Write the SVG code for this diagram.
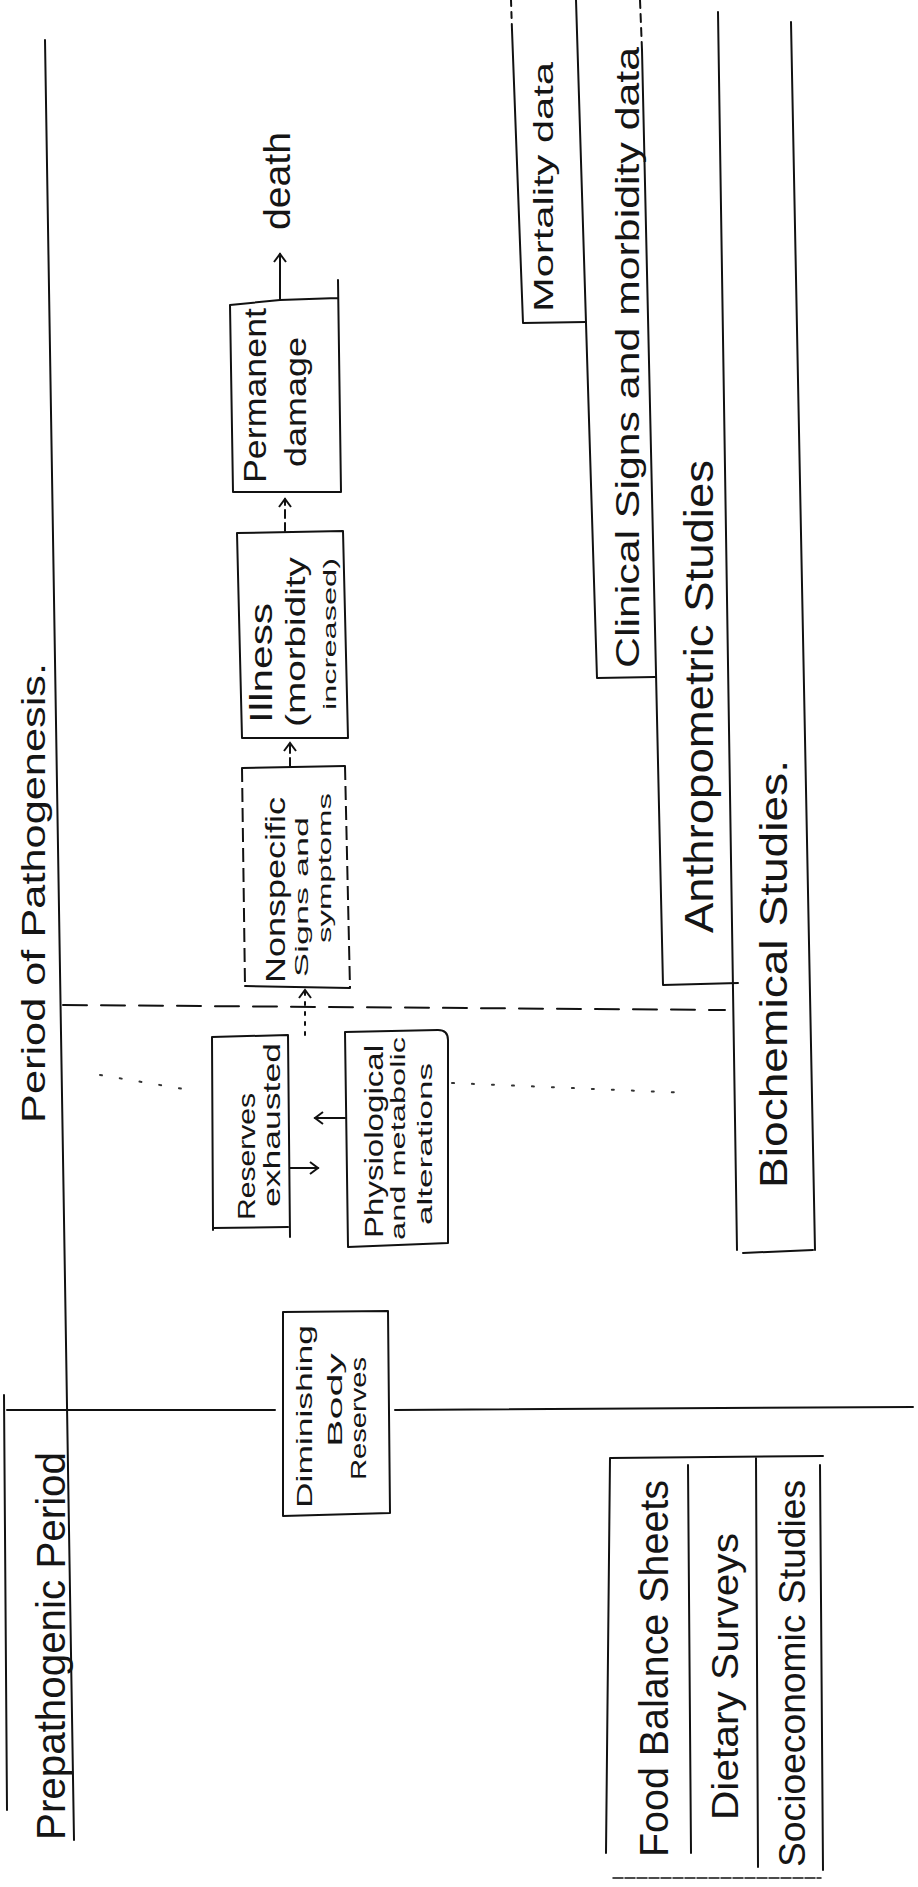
<svg xmlns="http://www.w3.org/2000/svg" width="918" height="1887" viewBox="0 0 918 1887">
<style>
  .ln{fill:none;stroke:#111;stroke-width:2;stroke-linecap:round;stroke-linejoin:round}
  .dsh{fill:none;stroke:#111;stroke-width:2;stroke-dasharray:14 6}
  .dot{fill:none;stroke:#333;stroke-width:2;stroke-dasharray:2 18;stroke-linecap:round}
  .t{font-family:"Liberation Sans","DejaVu Sans",sans-serif;fill:#151515}
</style>
<defs>
  <marker id="chev" markerWidth="14" markerHeight="14" refX="10" refY="7" orient="auto" markerUnits="userSpaceOnUse">
    <path d="M2,1 L10,7 L2,13" fill="none" stroke="#111" stroke-width="2"/>
  </marker>
</defs>
<rect width="918" height="1887" fill="#fff"/>

<!-- frame lines -->
<g id="frame">
  <path class="ln" d="M45,40 L74,1840"/>
  <path class="ln" d="M4,1395 L7,1810"/>
  <path class="ln" d="M7,1410 L275,1410 M395,1410 L913,1407"/>
  <path class="ln" d="M63,1005 L725,1010" style="stroke-dasharray:24 14"/>
  <text class="t" font-size="34" transform="translate(45,1123) rotate(-90)" textLength="460" lengthAdjust="spacingAndGlyphs">Period of Pathogenesis.</text>
  <text class="t" font-size="40" transform="translate(65,1840) rotate(-90)" textLength="388" lengthAdjust="spacingAndGlyphs">Prepathogenic Period</text>
</g>

<!-- nodes -->
<g id="death">
  <text class="t" font-size="36" transform="translate(290,230) rotate(-90)" textLength="98" lengthAdjust="spacingAndGlyphs">death</text>
</g>

<g id="permanent-damage">
  <path class="ln" d="M338,280 L341,492 L233,492 L230,305 L280,300 L338,298"/>
  <text class="t" font-size="32" transform="translate(266,483) rotate(-90)" textLength="175" lengthAdjust="spacingAndGlyphs">Permanent</text>
  <text class="t" font-size="30" transform="translate(306,467) rotate(-90)" textLength="130" lengthAdjust="spacingAndGlyphs">damage</text>
</g>

<g id="illness">
  <path class="ln" d="M237,533 L343,531 L348,738 L242,738 Z"/>
  <text class="t" font-size="32" transform="translate(272,723) rotate(-90)" textLength="120" lengthAdjust="spacingAndGlyphs">Illness</text>
  <text class="t" font-size="28" transform="translate(305,727) rotate(-90)" textLength="170" lengthAdjust="spacingAndGlyphs">(morbidity</text>
  <text class="t" font-size="18" transform="translate(336,710) rotate(-90)" textLength="152" lengthAdjust="spacingAndGlyphs">increased)</text>
</g>

<g id="nonspecific">
  <path class="ln" d="M242,768 L345,766 M245,986 L350,988"/>
  <path class="dsh" d="M242,768 L245,986 M345,766 L350,988"/>
  <text class="t" font-size="28" transform="translate(285,983) rotate(-90)" textLength="186" lengthAdjust="spacingAndGlyphs">Nonspecific</text>
  <text class="t" font-size="18" transform="translate(308,977) rotate(-90)" textLength="160" lengthAdjust="spacingAndGlyphs">Signs and</text>
  <text class="t" font-size="18" transform="translate(331,943) rotate(-90)" textLength="150" lengthAdjust="spacingAndGlyphs">symptoms</text>
</g>

<g id="reserves-exhausted">
  <path class="ln" d="M213,1230 L212,1037 L288,1035 L290,1237 M213,1228 L288,1227"/>
  <text class="t" font-size="24" transform="translate(255,1220) rotate(-90)" textLength="127" lengthAdjust="spacingAndGlyphs">Reserves</text>
  <text class="t" font-size="24" transform="translate(280,1207) rotate(-90)" textLength="164" lengthAdjust="spacingAndGlyphs">exhausted</text>
</g>

<g id="physiological">
  <path class="ln" d="M345,1032 L438,1030 Q448,1030 448,1040 L448,1243 L348,1247 Z"/>
  <text class="t" font-size="26" transform="translate(383,1238) rotate(-90)" textLength="193" lengthAdjust="spacingAndGlyphs">Physiological</text>
  <text class="t" font-size="20" transform="translate(405,1240) rotate(-90)" textLength="203" lengthAdjust="spacingAndGlyphs">and metabolic</text>
  <text class="t" font-size="20" transform="translate(432,1225) rotate(-90)" textLength="162" lengthAdjust="spacingAndGlyphs">alterations</text>
</g>

<g id="diminishing">
  <path class="ln" d="M283,1312 L388,1311 L390,1513 L283,1516 Z"/>
  <text class="t" font-size="22" transform="translate(312,1508) rotate(-90)" textLength="183" lengthAdjust="spacingAndGlyphs">Diminishing</text>
  <text class="t" font-size="20" transform="translate(342,1447) rotate(-90)" textLength="94" lengthAdjust="spacingAndGlyphs">Body</text>
  <text class="t" font-size="22" transform="translate(366,1480) rotate(-90)" textLength="123" lengthAdjust="spacingAndGlyphs">Reserves</text>
</g>

<g id="mortality-data">
  <path class="ln" d="M511,0 L512,30" style="stroke-dasharray:6 6"/>
  <path class="ln" d="M512,30 L523,323 L586,322"/>
  <text class="t" font-size="28" transform="translate(553,312) rotate(-90)" textLength="250" lengthAdjust="spacingAndGlyphs">Mortality data</text>
</g>

<g id="clinical-signs">
  <path class="ln" d="M576,0 L597,678 L655,677"/>
  <text class="t" font-size="34" transform="translate(639,668) rotate(-90)" textLength="621" lengthAdjust="spacingAndGlyphs">Clinical Signs and morbidity data</text>
</g>

<g id="anthropometric">
  <path class="ln" d="M640,0 L642,50" style="stroke-dasharray:8 6"/>
  <path class="ln" d="M642,50 L663,985 L738,983"/>
  <text class="t" font-size="40" transform="translate(713,933) rotate(-90)" textLength="473" lengthAdjust="spacingAndGlyphs">Anthropometric Studies</text>
</g>

<g id="biochemical">
  <path class="ln" d="M718,12 L737,1250 M743,1253 L813,1250 M791,22 L815,1250"/>
  <text class="t" font-size="38" transform="translate(787,1188) rotate(-90)" textLength="428" lengthAdjust="spacingAndGlyphs">Biochemical Studies.</text>
</g>

<g id="food-balance">
  <path class="ln" d="M610,1458 L823,1456 M610,1458 L606,1853 M688,1465 L691,1853 M756,1458 L758,1867 M820,1465 L823,1870"/>
  <path class="ln" d="M613,1878 L821,1878" style="stroke-width:1.5;stroke-dasharray:10 2"/>
  <text class="t" font-size="40" transform="translate(668,1857) rotate(-90)" textLength="377" lengthAdjust="spacingAndGlyphs">Food Balance Sheets</text>
  <text class="t" font-size="36" transform="translate(738,1820) rotate(-90)" textLength="287" lengthAdjust="spacingAndGlyphs">Dietary Surveys</text>
  <text class="t" font-size="36" transform="translate(805,1867) rotate(-90)" textLength="387" lengthAdjust="spacingAndGlyphs">Socioeconomic Studies</text>
</g>

<!-- connectors -->
<g id="connectors">
  <path class="ln" d="M280,300 L280,254" marker-end="url(#chev)"/>
  <path class="ln" d="M285,531 L285,499" style="stroke-dasharray:8 5" marker-end="url(#chev)"/>
  <path class="ln" d="M290,766 L290,743" style="stroke-dasharray:8 5" marker-end="url(#chev)"/>
  <path class="ln" d="M305,1035 L305,990" style="stroke-dasharray:3 7" marker-end="url(#chev)"/>
  <path class="ln" d="M290,1168 L318,1168" marker-end="url(#chev)"/>
  <path class="ln" d="M345,1118 L315,1118" marker-end="url(#chev)"/>
  <path class="dot" d="M100,1075 L190,1090"/>
  <path class="dot" d="M452,1083 L690,1093"/>
</g>
</svg>
